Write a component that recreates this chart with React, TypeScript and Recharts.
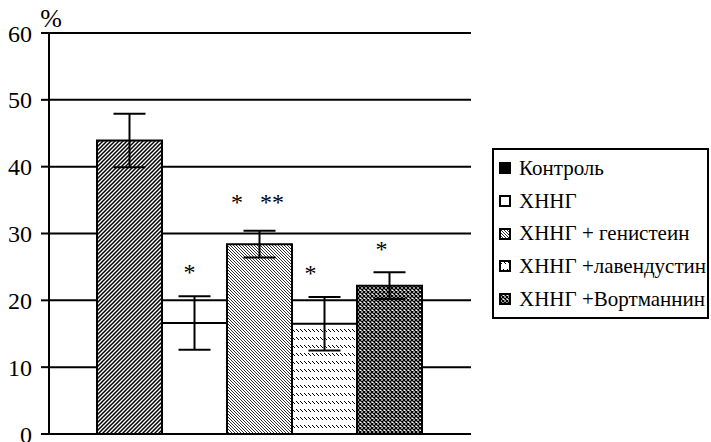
import {
  BarChart,
  Bar,
  XAxis,
  YAxis,
  CartesianGrid,
  ErrorBar,
  LabelList,
  Legend,
} from "recharts";

const seriesNames = [
  "Контроль",
  "ХННГ",
  "ХННГ + генистеин",
  "ХННГ +лавендустин",
  "ХННГ +Вортманнин",
];
const meanValues = [43.9, 16.6, 28.4, 16.5, 22.2];
const errorValues = [4.0, 4.0, 2.0, 4.0, 2.0];
const significance = ["", "*", "*\u00a0\u00a0\u2009**", "*", "*"];
const yTicks = [0, 10, 20, 30, 40, 50, 60];
const categories = [""];

const FONT = "Liberation Serif";
const GRAY = "#8c8c8c";

// bars use hatching; legend keys differ a little, as in the original figure
const barFills = ["url(#hatch-ctrl)", "#fff", "url(#hatch-gen)", "url(#hatch-lav)", "url(#hatch-wort)"];
const legendFills = ["#000", "#fff", "url(#hatch-gen)", "url(#hatch-lav)", "url(#hatch-wort)"];
// nudges for the asterisks (dx, gap above the error bar)
const markDx = [0, -5, -2, -14, -8];
const markLift = [0, 27, 32, 27, 26];

const data = categories.map((name) => {
  const row: Record<string, string | number> = { name };
  seriesNames.forEach((_, i) => {
    row[`s${i}`] = meanValues[i];
    row[`e${i}`] = errorValues[i];
  });
  return row;
});

const PercentLabel = (props: any) => {
  const vb = props.viewBox || {};
  return (
    <text x={vb.x + vb.width + 2} y={vb.y - 6} textAnchor="middle" fontSize={26} fontFamily={FONT} fill="#000">
      %
    </text>
  );
};

const markLabel = (i: number) => (props: any) => {
  if (!significance[i]) return null;
  const vb = props.viewBox || props;
  const x = vb.x ?? props.x;
  const y = vb.y ?? props.y;
  const width = vb.width ?? props.width;
  const height = vb.height ?? props.height;
  const errTop = y - (height / meanValues[i]) * errorValues[i];
  return (
    <text
      x={x + width / 2 + markDx[i]}
      y={errTop - markLift[i] + 11}
      textAnchor="middle"
      fontSize={24}
      fontFamily={FONT}
      fill="#000"
    >
      {significance[i]}
    </text>
  );
};

const renderLegend = () => (
  <div
    style={{
      boxSizing: "border-box",
      width: 217,
      height: 171,
      border: "2px solid #000",
      padding: "2px 0 0 5px",
      background: "#fff",
      fontFamily: FONT,
      fontSize: 21,
      color: "#000",
    }}
  >
    {seriesNames.map((name, i) => (
      <div key={name} style={{ display: "flex", alignItems: "center", height: 32.7, whiteSpace: "nowrap" }}>
        <svg width={12} height={12} style={{ marginRight: 8, flex: "none" }}>
          <rect x={1} y={1} width={10} height={10} fill={legendFills[i]} stroke="#000" strokeWidth={2} />
        </svg>
        <span style={{ fontFamily: FONT }}>{name}</span>
      </div>
    ))}
  </div>
);

export default function App() {
  return (
    <div style={{ position: "absolute", left: 0, top: 0, width: 711, height: 442, background: "#fff" }}>
      <BarChart
        width={711}
        height={442}
        data={data}
        margin={{ top: 33, right: 240, bottom: 0, left: 0 }}
        barCategoryGap={48}
        barGap={0}
        style={{ fontFamily: FONT }}
      >
        <defs>
          <pattern id="hatch-ctrl" width={4} height={4} patternUnits="userSpaceOnUse">
            <rect width={4} height={4} fill="#fff" />
            <path d="M-1,1 L1,-1 M0,4 L4,0 M3,5 L5,3" stroke="#000" strokeWidth={1.5} />
          </pattern>
          <pattern id="hatch-gen" width={3} height={3} patternUnits="userSpaceOnUse">
            <rect width={3} height={3} fill="#fff" />
            <path d="M-1,2 L1,4 M0,0 L3,3 M2,-1 L4,1" stroke="#000" strokeWidth={0.8} />
          </pattern>
          <pattern id="hatch-lav" width={4} height={8} patternUnits="userSpaceOnUse">
            <rect width={4} height={8} fill="#fff" />
            <path d="M0,1 L3,4" stroke="#000" strokeWidth={1} />
          </pattern>
          <pattern id="hatch-wort" width={4} height={4} patternUnits="userSpaceOnUse">
            <rect width={4} height={4} fill="#fff" />
            <path d="M0,0 L4,4 M4,0 L0,4" stroke="#000" strokeWidth={1.3} />
          </pattern>
        </defs>
        <CartesianGrid vertical={false} stroke="#000" strokeWidth={2} />
        <XAxis
          dataKey="name"
          height={8}
          axisLine={{ stroke: "#000", strokeWidth: 2 }}
          tickLine={false}
          tick={false}
        />
        <XAxis
          xAxisId="top"
          orientation="top"
          dataKey="name"
          height={0}
          axisLine={{ stroke: GRAY, strokeWidth: 2 }}
          tick={false}
          tickLine={false}
        />
        <YAxis
          domain={[0, 60]}
          ticks={yTicks}
          interval={0}
          width={49}
          tickSize={8}
          tickMargin={9}
          axisLine={{ stroke: "#000", strokeWidth: 2 }}
          tickLine={{ stroke: "#000", strokeWidth: 2 }}
          tick={{ fill: "#000", fontSize: 24, fontFamily: FONT }}
          label={PercentLabel}
        />
        <YAxis
          yAxisId="right"
          orientation="right"
          domain={[0, 60]}
          width={0}
          tick={false}
          tickLine={false}
          axisLine={{ stroke: GRAY, strokeWidth: 2 }}
        />
        {seriesNames.map((name, i) => (
          <Bar
            key={name}
            name={name}
            dataKey={`s${i}`}
            fill={barFills[i]}
            stroke="#000"
            strokeWidth={2}
            isAnimationActive={false}
          >
            <ErrorBar dataKey={`e${i}`} width={16} stroke="#000" strokeWidth={2} direction="y" />
            <LabelList dataKey={`s${i}`} content={markLabel(i)} />
          </Bar>
        ))}
        <Legend
          layout="vertical"
          align="center"
          verticalAlign="middle"
          content={renderLegend}
          wrapperStyle={{ left: 492, top: 148, width: 217 }}
        />
      </BarChart>
    </div>
  );
}
